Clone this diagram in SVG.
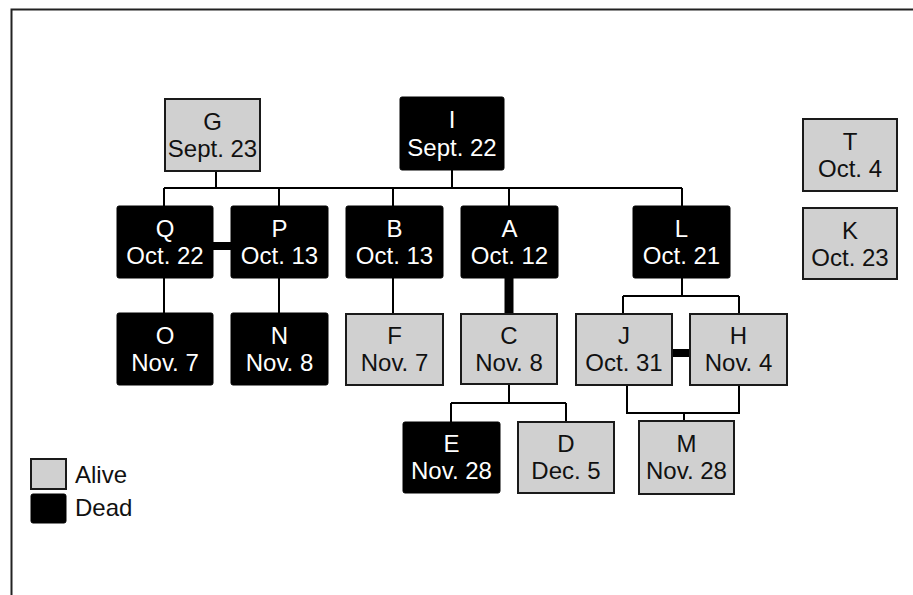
<svg xmlns="http://www.w3.org/2000/svg" width="913" height="595" viewBox="0 0 913 595">
<style>
.alive{fill:#d0d0d0;stroke:#1a1a1a;stroke-width:2}
.dead{fill:#000;stroke:#000;stroke-width:1}
.ta{font-family:"Liberation Sans",Arial,sans-serif;font-size:24px;fill:#111;text-anchor:middle}
.td{font-family:"Liberation Sans",Arial,sans-serif;font-size:24px;fill:#fff;text-anchor:middle}
.lt{font-family:"Liberation Sans",Arial,sans-serif;font-size:24px;fill:#111}
.c{stroke:#000;stroke-width:2;fill:none}
.thick{stroke:#000;stroke-width:8;fill:none}
.frame{stroke:#222;stroke-width:2;fill:none}
</style>
<rect width="913" height="595" fill="#fff"/>
<path class="frame" d="M11.5,595 V9.5 H913"/>
<g id="connectors">
<path class="c" d="M216,171 V188 M452,170 V188 M164,188 H682 M164,188 V206 M279,188 V206 M393,188 V206 M509,188 V206 M682,188 V206"/>
<path class="thick" d="M213,246 H231"/>
<path class="c" d="M164,278 V313 M279,278 V313 M393,278 V314"/>
<path class="thick" d="M509,278 V314" style="stroke-width:9"/>
<path class="c" d="M682,278 V296 M623,296 H739 M623,296 V314 M739,296 V314"/>
<path class="thick" d="M672,353 H690"/>
<path class="c" d="M509,384 V403 M451,403 H566 M451,403 V422 M566,403 V422"/>
<path class="c" d="M627,385 V413 H739 V385 M684,413 V421"/>
</g>
<g id="G"><rect class="alive" x="165" y="99" width="95" height="72"/><text class="ta" x="212.5" y="130">G</text><text class="ta" x="212.5" y="157">Sept. 23</text></g>
<g id="I"><rect class="dead" x="400" y="97" width="104" height="73" rx="2"/><text class="td" x="452" y="128">I</text><text class="td" x="452" y="156">Sept. 22</text></g>
<g id="Q"><rect class="dead" x="117" y="206" width="96" height="72" rx="2"/><text class="td" x="165" y="237">Q</text><text class="td" x="165" y="264">Oct. 22</text></g>
<g id="P"><rect class="dead" x="231" y="206" width="97" height="72" rx="2"/><text class="td" x="279.5" y="237">P</text><text class="td" x="279.5" y="264">Oct. 13</text></g>
<g id="B"><rect class="dead" x="346" y="206" width="97" height="72" rx="2"/><text class="td" x="394.5" y="237">B</text><text class="td" x="394.5" y="264">Oct. 13</text></g>
<g id="A"><rect class="dead" x="461" y="206" width="97" height="72" rx="2"/><text class="td" x="509.5" y="237">A</text><text class="td" x="509.5" y="264">Oct. 12</text></g>
<g id="L"><rect class="dead" x="633" y="206" width="97" height="72" rx="2"/><text class="td" x="681.5" y="237">L</text><text class="td" x="681.5" y="264">Oct. 21</text></g>
<g id="O"><rect class="dead" x="117" y="313" width="96" height="72" rx="2"/><text class="td" x="165" y="344">O</text><text class="td" x="165" y="371">Nov. 7</text></g>
<g id="N"><rect class="dead" x="231" y="313" width="97" height="72" rx="2"/><text class="td" x="279.5" y="344">N</text><text class="td" x="279.5" y="371">Nov. 8</text></g>
<g id="F"><rect class="alive" x="346" y="314" width="97" height="71"/><text class="ta" x="394.5" y="344">F</text><text class="ta" x="394.5" y="371">Nov. 7</text></g>
<g id="C"><rect class="alive" x="461" y="314" width="96" height="70"/><text class="ta" x="509" y="344">C</text><text class="ta" x="509" y="371">Nov. 8</text></g>
<g id="J"><rect class="alive" x="576" y="314" width="96" height="71"/><text class="ta" x="624" y="344">J</text><text class="ta" x="624" y="371">Oct. 31</text></g>
<g id="H"><rect class="alive" x="690" y="314" width="97" height="71"/><text class="ta" x="738.5" y="344">H</text><text class="ta" x="738.5" y="371">Nov. 4</text></g>
<g id="E"><rect class="dead" x="403" y="422" width="97" height="71" rx="2"/><text class="td" x="451.5" y="452">E</text><text class="td" x="451.5" y="479">Nov. 28</text></g>
<g id="D"><rect class="alive" x="518" y="422" width="96" height="71"/><text class="ta" x="566" y="452">D</text><text class="ta" x="566" y="479">Dec. 5</text></g>
<g id="M"><rect class="alive" x="639" y="421" width="95" height="73"/><text class="ta" x="686.5" y="452">M</text><text class="ta" x="686.5" y="479">Nov. 28</text></g>
<g id="T"><rect class="alive" x="803" y="119" width="94" height="72"/><text class="ta" x="850" y="150">T</text><text class="ta" x="850" y="177">Oct. 4</text></g>
<g id="K"><rect class="alive" x="803" y="208" width="94" height="71"/><text class="ta" x="850" y="239">K</text><text class="ta" x="850" y="266">Oct. 23</text></g>
<g id="legend">
<rect class="alive" x="31" y="459" width="35" height="30"/>
<rect class="dead" x="31" y="494" width="35" height="29" rx="2"/>
<text class="lt" x="75" y="483">Alive</text>
<text class="lt" x="75" y="516">Dead</text>
</g>
</svg>
